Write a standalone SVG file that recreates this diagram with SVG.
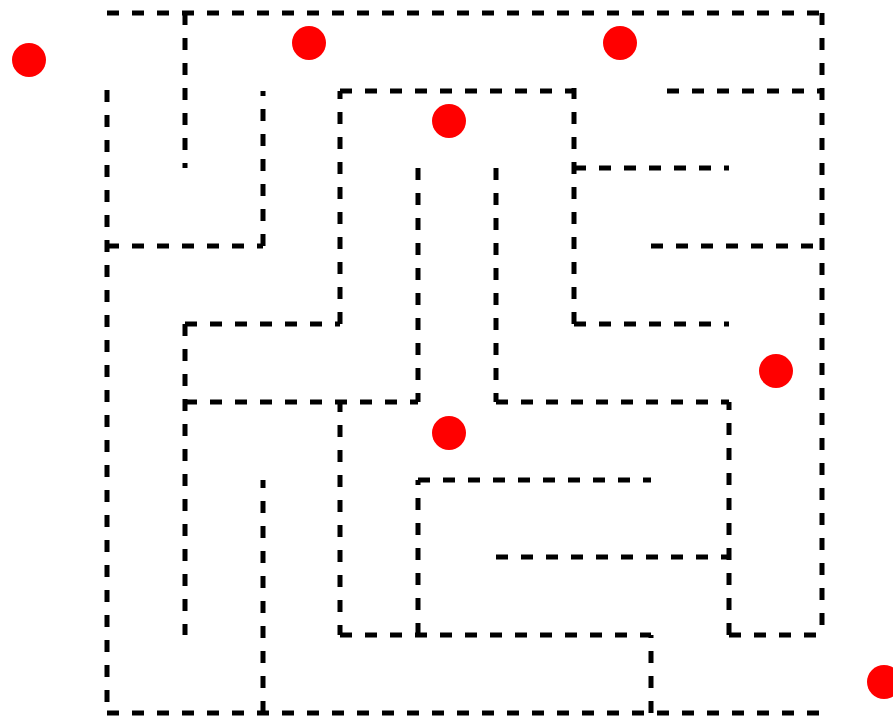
<svg xmlns="http://www.w3.org/2000/svg" width="893" height="718" viewBox="0 0 893 718">
<style>
.w{fill:none;stroke:#000;stroke-width:5;stroke-dasharray:12 13}
.d{fill:#ff0000}
</style>
<rect width="893" height="718" fill="#fff"/>
<g id="walls">
<path class="w" d="M107,13 H822"/>
<path class="w" d="M185,13 V168"/>
<path class="w" d="M822,13 V635"/>
<path class="w" d="M107,90 V713"/>
<path class="w" d="M107,713 H822"/>
<path class="w" d="M107,246 H263"/>
<path class="w" d="M263,246 V91"/>
<path class="w" d="M340,324 V91"/>
<path class="w" d="M340,91 H574"/>
<path class="w" d="M574,324 V88"/>
<path class="w" d="M574,168 H729"/>
<path class="w" d="M574,324 H729"/>
<path class="w" d="M667,91 H822"/>
<path class="w" d="M651,246 H822"/>
<path class="w" d="M185,324 H340"/>
<path class="w" d="M185,324 V635"/>
<path class="w" d="M185,402 H418"/>
<path class="w" d="M418,168 V402"/>
<path class="w" d="M496,168 V402"/>
<path class="w" d="M496,402 H729"/>
<path class="w" d="M729,635 V402"/>
<path class="w" d="M729,635 H822"/>
<path class="w" d="M496,557 H729"/>
<path class="w" d="M418,480 H651"/>
<path class="w" d="M418,635 V480"/>
<path class="w" d="M340,400 V635"/>
<path class="w" d="M340,635 H651"/>
<path class="w" d="M651,713 V635"/>
<path class="w" d="M263,713 V480"/>
</g>
<g id="dots">
<circle class="d" cx="29" cy="60" r="17"/>
<circle class="d" cx="309" cy="43" r="17"/>
<circle class="d" cx="620" cy="43" r="17"/>
<circle class="d" cx="449" cy="121" r="17"/>
<circle class="d" cx="776" cy="371" r="17"/>
<circle class="d" cx="449" cy="433" r="17"/>
<circle class="d" cx="884" cy="682" r="17"/>
</g>
</svg>
